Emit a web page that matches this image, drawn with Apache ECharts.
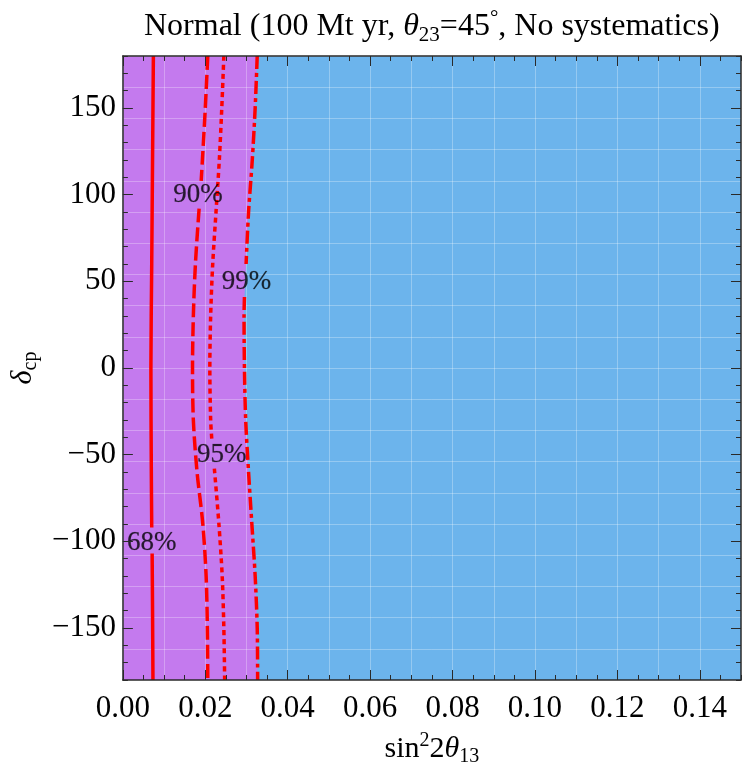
<!DOCTYPE html>
<html><head><meta charset="utf-8">
<script src="https://cdn.jsdelivr.net/npm/echarts@6/dist/echarts.min.js"></script>
<style>html,body{margin:0;padding:0;background:#fff}#c{width:742px;height:772px}</style>
</head><body><div id="c"></div>
<script>
// ---- data ----
const xTicks = [0, 0.02, 0.04, 0.06, 0.08, 0.10, 0.12, 0.14];
const yTicks = [-150, -100, -50, 0, 50, 100, 150];
// contours: [sin^2 2theta13, delta_cp]; '-' marks a break under the label
const c68 = [[0.0074,180],[0.0072,120],[0.0070,60],[0.0068,0],[0.0069,-60],[0.0070,-92],'-',[0.0071,-107],[0.0072,-140],[0.0073,-180]];
const c90 = [[0.0206,180],[0.0200,150],[0.0193,120],[0.0190,108],'-',[0.0185,92],[0.0176,60],[0.0171,30],[0.0169,0],[0.0171,-30],[0.0180,-60],[0.0194,-90],[0.0202,-120],[0.0205,-150],[0.0206,-180]];
const c95 = [[0.0245,180],[0.0240,150],[0.0234,120],[0.0226,90],[0.0218,60],[0.0213,30],[0.0211,0],[0.0213,-30],[0.0216,-42],'-',[0.0222,-58],[0.0233,-90],[0.0241,-120],[0.0245,-150],[0.0247,-180]];
const c99 = [[0.0326,180],[0.0321,150],[0.0314,120],[0.0305,90],[0.0299,60],'-',[0.0295,41],[0.0294,30],[0.0295,0],[0.0298,-30],[0.0305,-60],[0.0313,-90],[0.0321,-120],[0.0326,-150],[0.0327,-180]];
const labels = [[0.0182,100,'90%'],[0.0300,49.6,'99%'],[0.0240,-50.2,'95%'],[0.0070,-101,'68%']];

const SERIF = '"Liberation Serif","DejaVu Serif",serif';
const PURPLE = '#C47AEE', BLUE = '#6CB4EC', RED = '#FF0000', FRAME = '#2a2a2a';
const fmtY = v => v < 0 ? '\u2212' + Math.abs(v) : String(v);

const baseAx = (extra) => Object.assign({
  type: 'value', axisLine: {show: false, onZero: false}, axisTick: {show: false},
  axisLabel: {show: false}, splitLine: {show: false}, z: 7
}, extra);
const frameLine = {show: true, onZero: false, lineStyle: {color: FRAME, width: 1.5}};
const rich = (big, small) => ({
  t: {fontFamily: SERIF, fontSize: big, lineHeight: big + 6, fontWeight: 'normal', color: '#000'},
  i: {fontFamily: SERIF, fontSize: big, lineHeight: big + 6, fontStyle: 'italic', fontWeight: 'normal', color: '#000'},
  sub: {fontFamily: SERIF, fontSize: small, lineHeight: small, verticalAlign: 'bottom', fontWeight: 'normal', color: '#000'},
  sup: {fontFamily: SERIF, fontSize: small, lineHeight: small, verticalAlign: 'top', fontWeight: 'normal', color: '#000'}
});

const chart = echarts.init(document.getElementById('c'));
chart.setOption({
  animation: false,
  title: {
    text: '{t|Normal (100 Mt yr, }{i|θ}{sub|23}{t|=45}{sup|°}{t|, No systematics)}',
    left: 139, top: 3,
    textStyle: {fontWeight: 'normal', rich: rich(32, 21)}
  },
  grid: {left: 122, right: 1, top: 56, bottom: 92, show: true, backgroundColor: BLUE, borderWidth: 0},
  xAxis: [
    baseAx({position: 'bottom', min: 0, max: 0.15, interval: 0.005, axisLine: frameLine,
      axisTick: {show: true, inside: true, length: 5, lineStyle: {color: FRAME}}}),
    baseAx({position: 'bottom', min: 0, max: 0.15,
      axisTick: {show: true, inside: true, length: 10, customValues: xTicks, lineStyle: {color: FRAME}},
      axisLabel: {show: true, customValues: xTicks, formatter: v => v.toFixed(2), fontFamily: SERIF, fontSize: 31, color: '#000', margin: 13},
      name: '{t|sin}{sup|2}{t|2}{i|θ}{sub|13}', nameLocation: 'middle', nameGap: 51,
      nameTextStyle: {rich: rich(30, 20)}}),
    baseAx({position: 'top', min: 0, max: 0.15, interval: 0.005, axisLine: frameLine,
      axisTick: {show: true, inside: true, length: 5, lineStyle: {color: FRAME}}}),
    baseAx({position: 'top', min: 0, max: 0.15,
      axisTick: {show: true, inside: true, length: 10, customValues: xTicks, lineStyle: {color: FRAME}}}),
    baseAx({position: 'bottom', min: 0, max: 0.15, interval: 0.01, z: 2,
      splitLine: {show: true, lineStyle: {color: 'rgba(255,255,255,0.28)', width: 1}}})
  ],
  yAxis: [
    baseAx({position: 'left', min: -180, max: 180, interval: 10, axisLine: frameLine,
      axisTick: {show: true, inside: true, length: 5, lineStyle: {color: FRAME}}}),
    baseAx({position: 'left', min: -180, max: 180,
      axisTick: {show: true, inside: true, length: 10, customValues: yTicks, lineStyle: {color: FRAME}},
      axisLabel: {show: true, customValues: yTicks, formatter: fmtY, fontFamily: SERIF, fontSize: 31, color: '#000', margin: 7},
      name: '{i|δ}{sub|cp}', nameLocation: 'middle', nameGap: 78, nameRotate: 90,
      nameTextStyle: {rich: rich(30, 20)}}),
    baseAx({position: 'right', min: -180, max: 180, interval: 10, axisLine: frameLine,
      axisTick: {show: true, inside: true, length: 5, lineStyle: {color: FRAME}}}),
    baseAx({position: 'right', min: -180, max: 180,
      axisTick: {show: true, inside: true, length: 10, customValues: yTicks, lineStyle: {color: FRAME}}}),
    baseAx({position: 'left', min: -180, max: 180, interval: 18, z: 2,
      splitLine: {show: true, lineStyle: {color: 'rgba(255,255,255,0.28)', width: 1}}})
  ],
  series: [
    {type: 'custom', z: 1, silent: true, clip: true, data: [[0, 0]],
      renderItem: (params, api) => {
        const pts = [api.coord([0, 180])];
        c99.filter(p => p !== '-').forEach(p => pts.push(api.coord(p)));
        pts.push(api.coord([0, -180]));
        return {type: 'polygon', shape: {points: pts}, style: {fill: PURPLE}};
      }},
    {type: 'line', z: 5, data: c68, symbol: 'none', smooth: 0.3, connectNulls: false,
      lineStyle: {color: RED, width: 3.5, type: 'solid'}},
    {type: 'line', z: 5, data: c90, symbol: 'none', smooth: 0.3, connectNulls: false,
      lineStyle: {color: RED, width: 3.5, type: [14, 5]}},
    {type: 'line', z: 5, data: c95, symbol: 'none', smooth: 0.3, connectNulls: false,
      lineStyle: {color: RED, width: 3.5, type: [5, 4]}},
    {type: 'line', z: 5, data: c99, symbol: 'none', smooth: 0.3, connectNulls: false,
      lineStyle: {color: RED, width: 3.5, type: [13, 4, 4, 4]}},
    {type: 'scatter', z: 6, symbolSize: 0, silent: true, data: labels,
      label: {show: true, position: 'inside', formatter: p => p.data[2],
        fontFamily: SERIF, fontSize: 27, color: '#000', textBorderColor: 'rgba(0,0,0,0.35)', textBorderWidth: 0.6}}
  ]
});
</script></body></html>
